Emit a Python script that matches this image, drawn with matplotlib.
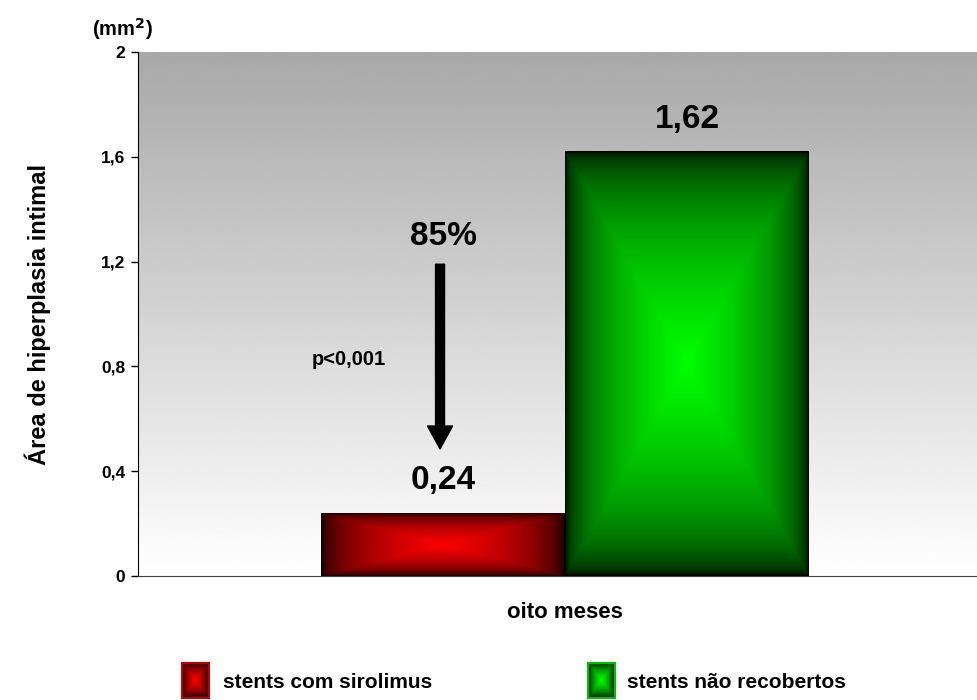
import numpy as np
import matplotlib
matplotlib.use("Agg")
import matplotlib.pyplot as plt

plt.rcParams['font.family'] = ['Liberation Sans', 'DejaVu Sans']

# Data
categories = ["stents com sirolimus", "stents não recobertos"]
values = [0.24, 1.62]
value_labels = ["0,24", "1,62"]
bright_colors = [(1.0, 0.0, 0.0), (0.0, 1.0, 0.0)]
yticks = [0, 0.4, 0.8, 1.2, 1.6, 2]
ytick_labels = ["0", "0,4", "0,8", "1,2", "1,6", "2"]
xlabel = "oito meses"
ylabel = "Área de hiperplasia intimal"
reduction = "85%"
pvalue = "p<0,001"


def center_gradient(color, nx=300, ny=300, gamma=0.45):
    """Rectangular 'from centre' shading: bright core, dark edges."""
    u = np.linspace(-1, 1, nx)
    v = np.linspace(-1, 1, ny)
    U, V = np.meshgrid(u, v)
    d = np.maximum(np.abs(U), np.abs(V))
    f = (1 - d) ** gamma
    img = np.zeros((ny, nx, 3))
    for i in range(3):
        img[..., i] = color[i] * f
    return img


fig = plt.figure(figsize=(9.78, 7.0), dpi=100)
ax = fig.add_axes([138 / 978, 124 / 700, 840 / 978, 524 / 700])

xlim = (-1.75, 1.693)
ylim = (0, 2)

# Background: grey at the top fading to white at the bottom
bg = np.linspace(1.0, 0.66, 256).reshape(-1, 1)
bg = np.repeat(bg, 2, axis=1)
ax.imshow(bg, cmap='gray', vmin=0, vmax=1, origin='lower',
          extent=[xlim[0], xlim[1], ylim[0], ylim[1]], aspect='auto', zorder=0)

positions = [-0.5, 0.5]
bars = ax.bar(positions, values, width=1.0, color='none', edgecolor='none', zorder=2)
for bar, col in zip(bars, bright_colors):
    x0 = bar.get_x()
    w = bar.get_width()
    h = bar.get_height()
    ax.imshow(center_gradient(col), extent=[x0, x0 + w, 0, h], origin='lower',
              aspect='auto', zorder=2, interpolation='bilinear')

ax.set_xlim(*xlim)
ax.set_ylim(*ylim)

for pos, val, lab in zip(positions, values, value_labels):
    ax.text(pos, val + 0.065, lab, ha='center', va='bottom', fontsize=24,
            fontweight='bold')

# Reduction arrow and annotations
ax.text(-0.5, 1.235, reduction, ha='center', va='bottom', fontsize=24, fontweight='bold')
ax.annotate('', xy=(-0.512, 0.485), xytext=(-0.512, 1.19),
            arrowprops=dict(arrowstyle='simple,head_width=1.2,head_length=1.1,tail_width=0.43',
                            fc='black', ec='black', mutation_scale=15,
                            shrinkA=0, shrinkB=0))
ax.text(-0.885, 0.825, pvalue, ha='center', va='center', fontsize=14.5, fontweight='bold')

# Axes styling
ax.spines['top'].set_visible(False)
ax.spines['right'].set_visible(False)
ax.spines['left'].set_color('black')
ax.spines['bottom'].set_color('#404040')
ax.set_xticks([])
ax.set_yticks(yticks)
ax.set_yticklabels(ytick_labels, fontsize=12.5, fontweight='bold')
ax.tick_params(axis='y', direction='out', length=5, width=1, pad=4)

fig.text(122 / 978, 1 - 29 / 700, "(mm$^{\\mathbf{2}}$)", ha='center', va='center',
         fontsize=14.5, fontweight='bold')
fig.text(38 / 978, 1 - 314 / 700, ylabel, rotation=90, ha='center', va='center',
         fontsize=17, fontweight='bold')
fig.text(565 / 978, 1 - 612 / 700, xlabel, ha='center', va='center',
         fontsize=16, fontweight='bold')

# Legend
legend_items = [(182, 223), (588, 627)]
for (px, tx), cat, col in zip(legend_items, categories, bright_colors):
    lax = fig.add_axes([px / 978, 1 - 698 / 700, 27 / 978, 35 / 700])
    lax.imshow(center_gradient(col, 40, 40, gamma=0.6), aspect='auto',
               extent=[0, 1, 0, 1])
    lax.set_xticks([])
    lax.set_yticks([])
    for s in lax.spines.values():
        s.set_color(tuple(0.75 * c for c in col))
        s.set_linewidth(1.5)
    fig.text(tx / 978, 1 - 683 / 700, cat, ha='left', va='center',
             fontsize=15, fontweight='bold')

fig.savefig("out.png", dpi=100)
